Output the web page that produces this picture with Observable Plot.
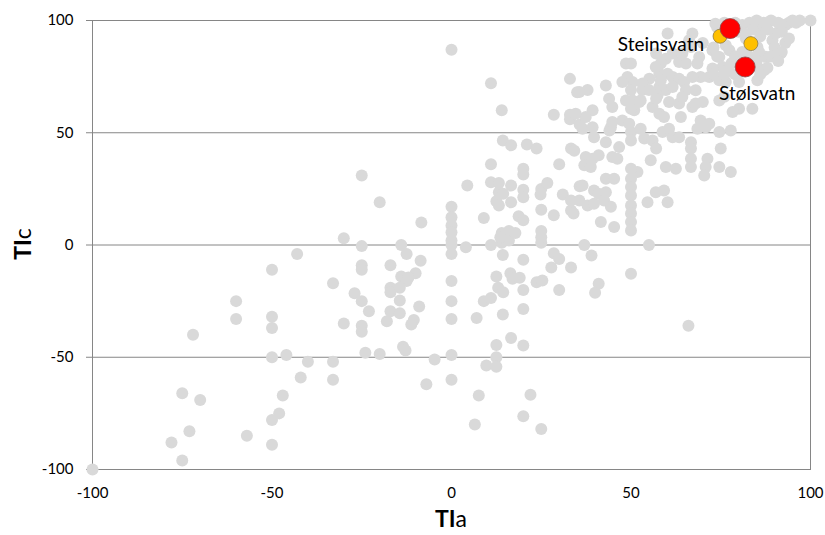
<!DOCTYPE html>
<html>
<head>
<meta charset="utf-8">
<script src="https://cdn.jsdelivr.net/npm/d3@7"></script>
<script src="https://cdn.jsdelivr.net/npm/@observablehq/plot@0.6"></script>
<style>
  html, body { margin: 0; padding: 0; background: #fff; }
  #chart svg { display: block; }
</style>
</head>
<body>
<div id="chart"></div>
<script>
// Tick values
const xTicks = [-100, -50, 0, 50, 100];
const yTicks = [-100, -50, 0, 50, 100];
const gridTicks = [-50, 0, 50, 100];

// All lakes: [TIa, TIc]
const grayPoints = [
  [-100,-100],[-78,-88],[-75,-96],[-73,-83],[-75,-66],[-70,-69],[-57,-85],[-50,-89],[-50,-78],[-48,-75],
  [-47,-67],[-42,-59],[-33,-60],[-33,-52],[-40,-52],[-46,-49],[-50,-50],[-24,-48],[-20,-48.5],[-72,-40],
  [-60,-25],[-60,-33],[-50,-11],[-50,-32],[-50,-37],[-43,-4],[-33,-17],[-30,3],[-30,-35],[-25,31],
  [-20,19],[-25,-0.5],[-25,-9],[-25,-11],[-17,-9],[-27,-21.5],[-25,-25],[-23,-29.5],[-17,-19],[-17,-21],
  [-17,-29.5],[-18,-34],[-25,-36],[-25,-38.6],[-7,-62],[0,-60],[7.6,-67],[6.5,-80],
  [-14,0],[0,0],[0,-4],[4,-1],[11,0],[14,1],[16,2],[25,1],[37,0],[55,0],[-12.5,-4],[-8.6,-7],
  [-10,-12.6],[-14,-14],[-12,-14.5],[-12.5,-16],[-14.4,-19],[-14.4,-24.7],[-14.4,-30.4],[-9,-27.4],
  [-10.5,-33.4],[-11.2,-35.4],[-13.5,-45.3],[-12.8,-47],[-4.7,-51],[0,-49],[0,-16],[0,-25],[0,-33],
  [7,-32.5],[9,-25],[11,-23.6],[12.5,-14],[16.4,-12.6],[17,-15],[19,-14.6],[13,-19],[14.4,-21],
  [20,-6.6],[14.3,-4.5],[20,-20],[20,-28.5],[14.3,-31],[23.7,-16.6],[25.3,-15.8],[28.5,-3.7],[30,-6.2],
  [27.8,-10],[33.3,-10],[30,-20],[39,-4.7],[41,-17.3],[40,-21.3],[50,-12.8],[16.6,-41.4],[12.5,-44.5],
  [20,-44.8],[12.5,-50],[9.7,-53.7],[12.5,-54.2],[22,-66.7],[20,-76.3],[25,-82],[66,-36],
  [0,87],[11,72],[14,60],[33,74],[35,68],[28.5,58],[33,58],[33,56],[35.7,53.7],[14.3,46.6],
  [16.6,44.4],[21,44.8],[23.7,43],[33.3,43],[11,36],[20,34],[20,31.4],[30,36],[35.7,26.2],[4.4,26.5],
  [11,28],[13.2,27.6],[16.6,26.5],[13.2,23.5],[14.4,22.8],[20,24.6],[20,21.3],[25,25],[26.7,27.6],
  [24.8,22.5],[31,22.5],[33.3,19.8],[33.3,15.4],[34,14],[12.5,19.5],[13.2,17.6],[16.6,19],[25,15.7],
  [28.5,13.2],[0,17],[0,12.4],[0,8.7],[0,5.7],[0,2],[-8.4,10],[9,12],[18.7,12.8],[20,11],[14,5.3],
  [16,6.2],[17.8,5.3],[25,6.2],[25,3.5],[13.6,3.5],
  [36.5,51.8],[39.3,52.5],[39.7,48],[44,51],[44.4,52.5],[43,45.8],[46.7,43.6],[50,50.3],[50,46.6],
  [52.7,51.8],[53.7,47.4],[56,46.6],[57,43],[58.8,50.3],[60.6,51.8],[61.6,48],[63.4,48],[66.7,45.8],
  [66.7,43],[68.5,51.8],[70.8,52.5],[74.6,50.3],[77.8,51],[75,43],[71.3,38.4],[70.8,34.7],[70.4,31],
  [66.7,38.4],[66.7,34.7],[74.6,34.7],[77.8,32.5],[59.7,34.7],[62.5,34],[55.5,37.7],[51.8,32.5],
  [50,34],[50,29.5],[50,25.8],[50,22],[50,17.6],[50,14],[50,10.2],[50,6.5],[43,29.5],[45.3,29.5],
  [36.5,26.5],[39.7,24.3],[41,22.8],[43,23.5],[35.6,19.8],[37.9,17.6],[39.7,18.4],[42.5,19.8],
  [44.4,17],[41.6,10.2],[45.3,8],[54.6,19],[56.9,23.5],[59.2,24.3],[60.2,19],[34.2,42],[37.4,39.2],
  [39.3,38.4],[41,40],[37,35.5],[38.8,34.7],[44.8,39.2],[46.2,38.4],
  [100,100],[86.6,97],[91.3,98.6],[92.7,98],[89.4,91.2],[90.3,94.2],[91.7,85.3],[87.5,83.8],[85.2,88.2],
  [85.7,86],[82,92],[76.4,89],[77.4,86.7],[74.6,83.7],[75.5,79.3],[72.7,86.7],[85.7,78.6],[87.1,77.8],
  [85.2,73.4],[80.1,72.6],[72.7,78.6],[71.8,74.8],[69,83.7],[68.5,80.8],[69.4,74.8],[74.6,73.4],
  [76.4,72.6],[66.2,91.2],[66.7,88.2],[67.1,94.2],[63.4,81.5],[65.3,80.8],[61.6,85.3],[59.7,83],
  [58.3,80.8],[57.9,76.3],[56.9,79.3],[60.2,76.3],[61.6,74.8],[63.4,74.1],[64.8,72.6],[65.3,69],
  [57.9,70.4],[59.7,69],[57.4,66.7],[63.4,63],[67.1,61.5],[63.9,57],[70,63.7],[74.6,64.4],[76,66],
  [80.1,60.7],[83.8,60.7],[48.6,80.8],[50,80.8],[49,74.8],[50.4,72.6],[50,69],[47.6,72.6],[43,71],
  [37.9,69],[35.6,68.2],[55.1,74.1],[53.2,69],[52.7,64.4],[50.4,64.4],[50.9,60],[56,61.5],[57.9,58.5],
  [59.2,57],[43.9,65.2],[44.8,61.5],[39.3,60],[37.4,57],[34.6,58.5],[47.6,55.5],[49.5,54],[44.8,54.8],
  [69.4,55.5],[71.8,54],[78.3,59.2],
  [53.2,71.9],[55,69],[57,85.3],[60.2,94.2],[64.3,85.3],[58.3,73.4],[61.6,70.4],[67.1,74.8],[64.3,65.9],
  [68,68.9],[68,63],[60.6,63.7],[57,65.2],[52.3,63.7],[48.6,64.4],[50,60.7],
  [74,97],[76,99],[79,99],[81,98],[83,99],[85,100],[87,99],[89,100],[91,99],[93,98],[94,99],[80,95],
  [84,96],[88,96],[92,95],[86,93],[82,94],[90,88],[92,86],[89,84],[93,90],[94,92],[91,82],[73,88],
  [74,84],[73,76],[76,76],[77,78],[79,76],[78,81],[88,79],[86,76],[79,84],[81,86],[83,84],[85,82],
  [96,99],[97,100],[95,100],[70,90],[73.5,98.5]
];

// Highlighted (orange) lakes
const goldTIa = [74.8, 83.4];
const goldTIc = [93, 89.7];

// Named (red) lakes
const lakeNames = ["Steinsvatn", "Stølsvatn"];
const lakeTIa = [77.6, 81.8];
const lakeTIc = [96.4, 79.3];

const gold = goldTIa.map((x, i) => ({x, y: goldTIc[i]}));
const lakes = lakeNames.map((name, i) => ({name, x: lakeTIa[i], y: lakeTIc[i]}));

const FONT = "Lato, 'Open Sans', sans-serif";

const svg = Plot.plot({
  width: 825,
  height: 535,
  marginLeft: 92,
  marginRight: 15,
  marginTop: 20,
  marginBottom: 66,
  style: {fontFamily: FONT, background: "#fff", color: "#000"},
  x: {domain: [-100, 100]},
  y: {domain: [-100, 100]},
  marks: [
    Plot.gridY(gridTicks, {stroke: "#868686", strokeOpacity: 1, strokeWidth: 1}),
    Plot.frame({stroke: "#868686", strokeWidth: 1}),
    Plot.axisY(yTicks, {tickSize: 6, tickPadding: 13, stroke: "#868686", fill: "#000",
      fontSize: 15, tickFormat: d => String(d), label: null}),
    Plot.axisX(xTicks, {tickSize: 0, tickPadding: 18, fill: "#000",
      fontSize: 15, tickFormat: d => String(d), label: null}),
    Plot.dot(grayPoints, {x: d => d[0], y: d => d[1], r: 6, fill: "#d9d9d9"}),
    Plot.dot(gold, {x: "x", y: "y", r: 7, fill: "#ffc000", stroke: "#8c7a4a", strokeWidth: 0.8}),
    Plot.dot(lakes, {x: "x", y: "y", r: 10, fill: "#ff0000", stroke: "#8c4a4a", strokeWidth: 0.8}),
    Plot.text(lakes.filter(d => d.name === "Steinsvatn"), {x: "x", y: "y", text: "name",
      textAnchor: "end", dx: -26, dy: 16, fontSize: 19, fill: "#000"}),
    Plot.text(lakes.filter(d => d.name === "Stølsvatn"), {x: "x", y: "y", text: "name",
      textAnchor: "middle", dx: 12, dy: 27, fontSize: 19, fill: "#000"})
  ]
});

const s = d3.select(svg);
const xt = s.append("text")
  .attr("x", 451).attr("y", 527)
  .attr("text-anchor", "middle")
  .attr("font-family", FONT).attr("font-size", 23).attr("fill", "#000");
xt.append("tspan").attr("font-weight", "bold").text("TI");
xt.append("tspan").attr("font-weight", "normal").text("a");

const yt = s.append("text")
  .attr("transform", "translate(31,244) rotate(-90)")
  .attr("text-anchor", "middle")
  .attr("font-family", FONT).attr("font-size", 23).attr("fill", "#000");
yt.append("tspan").attr("font-weight", "bold").text("TI");
yt.append("tspan").attr("font-weight", "normal").text("c");

document.getElementById("chart").appendChild(svg);
</script>
</body>
</html>
